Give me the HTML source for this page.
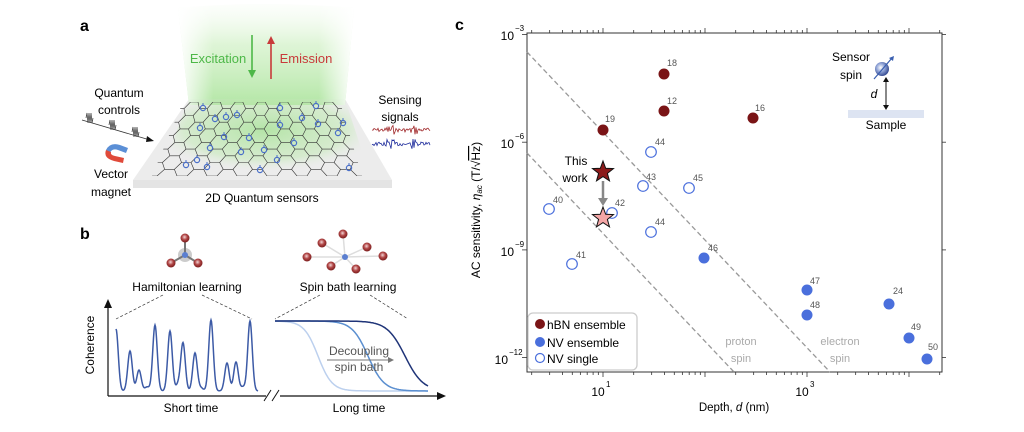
<!DOCTYPE html>
<html><head><meta charset="utf-8"><style>
html,body{margin:0;padding:0;background:#fff;width:1024px;height:432px;overflow:hidden}
svg{display:block;font-family:"Liberation Sans",sans-serif}
</style></head><body>
<svg id="s" width="1024" height="432" viewBox="0 0 1024 432" xmlns="http://www.w3.org/2000/svg">
<defs>
<linearGradient id="beam" x1="0" y1="0" x2="0" y2="1"><stop offset="0" stop-color="#e6f7df" stop-opacity="0.1"/><stop offset="0.4" stop-color="#c8eebb" stop-opacity="0.6"/><stop offset="1" stop-color="#a6e296" stop-opacity="0.85"/></linearGradient>
<linearGradient id="beamx" x1="0" y1="0" x2="1" y2="0"><stop offset="0" stop-color="#fff" stop-opacity="1"/><stop offset="0.2" stop-color="#fff" stop-opacity="0"/><stop offset="0.8" stop-color="#fff" stop-opacity="0"/><stop offset="1" stop-color="#fff" stop-opacity="1"/></linearGradient>
<radialGradient id="ball" cx="0.4" cy="0.4" r="0.6"><stop offset="0" stop-color="#fff"/><stop offset="0.5" stop-color="#8fa3d6"/><stop offset="1" stop-color="#3a4f95"/></radialGradient>
<radialGradient id="rball" cx="0.45" cy="0.4" r="0.6"><stop offset="0" stop-color="#f3d6d6"/><stop offset="0.5" stop-color="#b04545"/><stop offset="1" stop-color="#7a1d1d"/></radialGradient>
<radialGradient id="plateg" cx="0.5" cy="0.4" r="0.55"><stop offset="0" stop-color="#a6e296" stop-opacity="0.8"/><stop offset="0.7" stop-color="#bfeab0" stop-opacity="0.5"/><stop offset="1" stop-color="#ececec" stop-opacity="0"/></radialGradient>
<clipPath id="latclip"><polygon points="183,102 340,102 362,176 152,176"/></clipPath>
</defs>
<!-- Panel a -->
<text x="80" y="31" font-size="16" font-weight="bold">a</text>
<polygon points="133,180 392,180 392,188 133,188" fill="#e4e4e4"/>
<polygon points="189,99 345,99 392,180 133,180" fill="#ececec"/>
<path d="M178,8 Q265,0 354,8 L345,105 L189,105 Z" fill="url(#beam)"/>
<path d="M178,8 Q265,0 354,8 L345,105 L189,105 Z" fill="url(#beamx)"/>
<polygon points="189,99 345,99 370,176 160,176" fill="url(#plateg)"/>
<g id="lat" clip-path="url(#latclip)" fill="none" stroke="#333" stroke-width="0.6"></g>
<g id="spins"></g>
<text x="218" y="63" font-size="13" fill="#4db848" text-anchor="middle">Excitation</text>
<line x1="252" y1="35" x2="252" y2="72" stroke="#4db848" stroke-width="1.6"/><polygon points="248,70 256,70 252,78" fill="#4db848"/>
<text x="306" y="63" font-size="13" fill="#c83a3a" text-anchor="middle">Emission</text>
<line x1="271" y1="42" x2="271" y2="79" stroke="#c83a3a" stroke-width="1.6"/><polygon points="267,44 275,44 271,36" fill="#c83a3a"/>
<text x="119" y="97" font-size="12" text-anchor="middle">Quantum</text>
<text x="119" y="114" font-size="12" text-anchor="middle">controls</text>
<line x1="82" y1="120" x2="150" y2="140" stroke="#333" stroke-width="0.8"/><polygon points="147,136 154,141 146,142" fill="#111"/>
<path d="M86,118 l1,-5 l1,10 l1,-10 l1,10 l1,-10 l1,10 l1,-5 M109,125 l1,-5 l1,10 l1,-10 l1,10 l1,-10 l1,10 l1,-5 M132,132 l1,-5 l1,10 l1,-10 l1,10 l1,-10 l1,10 l1,-5" stroke="#444" fill="none" stroke-width="0.8"/>
<path d="M106,150 q4,-8 14,-5 l8,3 l-2,5 l-8,-3 q-6,-2 -8,3 Z" fill="#5b8fd6"/>
<path d="M106,150 q-3,8 8,11 l9,2 l1,-5 l-9,-2 q-5,-1 -4,-4 Z" fill="#e04a3a"/>
<text x="111" y="178" font-size="12" text-anchor="middle">Vector</text>
<text x="111" y="196" font-size="12" text-anchor="middle">magnet</text>
<text x="262" y="202" font-size="12" text-anchor="middle">2D Quantum sensors</text>
<text x="400" y="104" font-size="12" text-anchor="middle">Sensing</text>
<text x="400" y="121" font-size="12" text-anchor="middle">signals</text>
<polyline id="sig1" fill="none" stroke="#a0282a" stroke-width="0.8"/>
<polyline id="sig2" fill="none" stroke="#1f2d9c" stroke-width="0.8"/>
<!-- Panel b -->
<text x="80" y="239" font-size="16" font-weight="bold">b</text>
<circle cx="185" cy="255" r="7" fill="#aaa" opacity="0.6"/>
<g id="mols"></g>
<text x="187" y="291" font-size="12" text-anchor="middle">Hamiltonian learning</text>
<text x="348" y="291" font-size="12" text-anchor="middle">Spin bath learning</text>
<g stroke="#333" stroke-width="0.7" stroke-dasharray="3,2" fill="none">
<line x1="163" y1="295" x2="116" y2="319"/><line x1="202" y1="295" x2="252" y2="319"/>
<line x1="320" y1="295" x2="275" y2="319"/><line x1="370" y1="295" x2="408" y2="319"/></g>
<line x1="108" y1="396" x2="108" y2="306" stroke="#111" stroke-width="1.2"/><polygon points="104,308 112,308 108,299" fill="#111"/>
<line x1="108" y1="396" x2="438" y2="396" stroke="#111" stroke-width="1.2"/><polygon points="437,392 446,396 437,400" fill="#111"/>
<rect x="266" y="390" width="14" height="12" fill="#fff"/>
<line x1="264" y1="401" x2="271" y2="390" stroke="#111"/><line x1="272" y1="401" x2="279" y2="390" stroke="#111"/>
<text transform="translate(94,345) rotate(-90)" font-size="12" text-anchor="middle">Coherence</text>
<text x="191" y="412" font-size="12" text-anchor="middle">Short time</text>
<text x="359" y="412" font-size="12" text-anchor="middle">Long time</text>
<path id="osc" fill="none" stroke="#3c5aa6" stroke-width="1.5"/>
<path id="d1" fill="none" stroke="#bcd0ee" stroke-width="1.5"/>
<path id="d2" fill="none" stroke="#5b8fd0" stroke-width="1.5"/>
<path id="d3" fill="none" stroke="#1f3478" stroke-width="1.5"/>
<text x="359" y="355" font-size="12" fill="#555" text-anchor="middle">Decoupling</text>
<line x1="327" y1="360" x2="390" y2="360" stroke="#777"/><polygon points="388,357 394,360 388,363" fill="#777"/>
<text x="359" y="371" font-size="12" fill="#555" text-anchor="middle">spin bath</text>
<!-- Panel c -->
<text x="455" y="30" font-size="16" font-weight="bold">c</text>
<rect x="527" y="33" width="415" height="339" fill="none" stroke="#333" stroke-width="1"/>
<g id="ticks" stroke="#333" stroke-width="0.8"></g>
<g font-size="12" text-anchor="end">
<text x="514" y="40">10</text><text x="515" y="31" font-size="8" text-anchor="start">−3</text>
<text x="514" y="148">10</text><text x="515" y="139" font-size="8" text-anchor="start">−6</text>
<text x="514" y="256">10</text><text x="515" y="247" font-size="8" text-anchor="start">−9</text>
<text x="508" y="364">10</text><text x="509" y="355" font-size="8" text-anchor="start">−12</text>
</g>
<text x="598" y="396" font-size="12" text-anchor="middle">10</text><text x="606" y="387" font-size="8">1</text>
<text x="802" y="396" font-size="12" text-anchor="middle">10</text><text x="810" y="387" font-size="8">3</text>
<text x="734" y="411" font-size="11.5" text-anchor="middle">Depth, <tspan font-style="italic">d</tspan> (nm)</text>
<text transform="translate(480,210) rotate(-90)" font-size="12" text-anchor="middle">AC sensitivity, <tspan font-style="italic">η</tspan><tspan font-size="8" font-style="italic" dy="2">ac</tspan><tspan dy="-2"> (T/√</tspan><tspan text-decoration="overline">Hz</tspan>)</text>
<line x1="527" y1="52" x2="830" y2="372" stroke="#999" stroke-width="1.3" stroke-dasharray="5,3"/>
<line x1="527" y1="153" x2="734" y2="372" stroke="#999" stroke-width="1.3" stroke-dasharray="5,3"/>
<g font-size="11" fill="#aaa" text-anchor="middle"><text x="741" y="345">proton</text><text x="741" y="362">spin</text><text x="840" y="345">electron</text><text x="840" y="362">spin</text></g>
<g fill="#7a1416"><circle cx="664" cy="74" r="5.5"/><circle cx="664" cy="111" r="5.5"/><circle cx="603" cy="130" r="5.5"/><circle cx="753" cy="118" r="5.5"/></g>
<g fill="#4a6fdc"><circle cx="704" cy="258" r="5.5"/><circle cx="807" cy="290" r="5.5"/><circle cx="807" cy="315" r="5.5"/><circle cx="889" cy="304" r="5.5"/><circle cx="909" cy="338" r="5.5"/><circle cx="927" cy="359" r="5.5"/></g>
<g fill="#fff" stroke="#4a6fdc" stroke-width="1.2"><circle cx="549" cy="209" r="5.3"/><circle cx="572" cy="264" r="5.3"/><circle cx="612" cy="213" r="5.3"/><circle cx="651" cy="152" r="5.3"/><circle cx="643" cy="186" r="5.3"/><circle cx="689" cy="188" r="5.3"/><circle cx="651" cy="232" r="5.3"/></g>
<g font-size="9" fill="#555"><text x="667" y="66">18</text><text x="667" y="104">12</text><text x="605" y="122">19</text><text x="755" y="111">16</text>
<text x="708" y="251">46</text><text x="810" y="284">47</text><text x="810" y="308">48</text><text x="893" y="294">24</text><text x="911" y="330">49</text><text x="928" y="350">50</text>
<text x="553" y="203">40</text><text x="576" y="258">41</text><text x="615" y="206">42</text><text x="655" y="145">44</text><text x="646" y="180">43</text><text x="693" y="181">45</text><text x="655" y="225">44</text></g>
<g id="stars"></g>
<line x1="603" y1="181" x2="603" y2="200" stroke="#888" stroke-width="2.5"/><polygon points="598,198 608,198 603,206" fill="#888"/>
<text x="576" y="165" font-size="12" text-anchor="middle">This</text><text x="575" y="182" font-size="12" text-anchor="middle">work</text>
<text x="851" y="61" font-size="12" text-anchor="middle">Sensor</text><text x="851" y="79" font-size="12" text-anchor="middle">spin</text>
<circle cx="882" cy="69" r="7" fill="url(#ball)"/><line x1="874" y1="79" x2="892" y2="58" stroke="#3a5fb0" stroke-width="1.2"/><polygon points="889,58 894,56 893,61" fill="#3a5fb0"/>
<line x1="886" y1="80" x2="886" y2="107" stroke="#111"/><polygon points="883,82 889,82 886,77" fill="#111"/><polygon points="883,105 889,105 886,110" fill="#111"/>
<text x="874" y="98" font-size="12" font-style="italic" text-anchor="middle">d</text>
<rect x="848" y="110" width="76" height="8" fill="#dde4f2"/>
<text x="886" y="129" font-size="12" text-anchor="middle">Sample</text>
<rect x="528" y="313" width="109" height="57" rx="5" fill="#fff" stroke="#ccc" stroke-width="1.3"/>
<circle cx="540" cy="324" r="5" fill="#7a1416"/><text x="547" y="329" font-size="12">hBN ensemble</text>
<circle cx="540" cy="342" r="5" fill="#4a6fdc"/><text x="547" y="347" font-size="12">NV ensemble</text>
<circle cx="540" cy="358" r="4.5" fill="#fff" stroke="#4a6fdc" stroke-width="1.2"/><text x="547" y="363" font-size="12">NV single</text>
</svg>
<script>
var NS="http://www.w3.org/2000/svg",S=document.getElementById('s');
function el(t,a,p){var e=document.createElementNS(NS,t);for(var k in a)e.setAttribute(k,a[k]);(p||S).appendChild(e);return e;}
// lattice (flat-top honeycomb in unit square mapped to trapezoid)
var Q=[[183,102],[340,102],[362,176],[152,176]];
function map(u,v){var tx=Q[0][0]+(Q[1][0]-Q[0][0])*u, bx=Q[3][0]+(Q[2][0]-Q[3][0])*u;return [tx+(bx-tx)*v, Q[0][1]+(Q[3][1]-Q[0][1])*v];}
var lat=document.getElementById('lat'),d="";
var s=1/21, hh=1/11;
for(var c=-2;c<=16;c++)for(var r=-2;r<=7;r++){
 var cx=c*1.5*s, cy=(r*2+(c%2?1:0))*hh;
 var pts=[[-1,0],[-0.5,-1],[0.5,-1],[1,0],[0.5,1],[-0.5,1]].map(function(p){return map(cx+p[0]*s,cy+p[1]*hh);});
 d+="M"+pts.map(function(p){return p[0].toFixed(1)+","+p[1].toFixed(1)}).join("L")+"Z";}
el('path',{d:d},lat);
var sp=[[203,108],[215,119],[237,115],[200,128],[210,148],[197,160],[186,165],[226,117],[280,108],[316,106],[302,118],[318,124],[280,125],[249,138],[241,152],[264,150],[294,143],[277,160],[260,170],[224,137],[338,133],[343,123],[349,168],[207,167]];
var g=document.getElementById('spins');sp.forEach(function(p){el('circle',{cx:p[0],cy:p[1],r:2.6,fill:'none',stroke:'#4a6fc8','stroke-width':1.2},g);el('line',{x1:p[0],y1:p[1]-2,x2:p[0],y2:p[1]-5,stroke:'#4a6fc8','stroke-width':1},g);});
// signals
function sig(id,y,seed){var s="";var x=372,k=seed;for(;x<=430;x+=1){k=(k*9301+49297)%233280;var a=(k/233280-0.5)*((x>385&&x<395)||(x>410&&x<418)?10:4);s+=x+","+(y+a).toFixed(1)+" ";}document.getElementById(id).setAttribute('points',s);}
sig('sig1',130,7);sig('sig2',144,13);
// molecules
var m=document.getElementById('mols');
function ball(x,y,r,f){el('circle',{cx:x,cy:y,r:r,fill:f},m);}
[[185,238],[171,263],[198,263]].forEach(function(p){el('line',{x1:185,y1:255,x2:p[0],y2:p[1],stroke:'#777','stroke-width':2},m);ball(p[0],p[1],4.5,'url(#rball)');});
ball(185,255,3,'#5b7fd0');
var bp=[[343,234],[322,243],[307,257],[331,266],[356,269],[367,247],[383,256]];
bp.forEach(function(p){el('line',{x1:345,y1:257,x2:p[0],y2:p[1],stroke:'#ddd','stroke-width':1.5},m);});
bp.forEach(function(p){ball(p[0],p[1],4.5,'url(#rball)');});ball(345,257,3,'#5b7fd0');
// oscillation
var peaks=[[116,329],[130,351],[139,370],[155,325],[170,331],[183,343],[195,353],[211,320],[227,363],[236,362],[250,321],[147,387],[178,385],[201,388],[243,387]];
var o="";for(var x=116;x<=258;x+=0.5){var y=391;peaks.forEach(function(p){var dy=(391-p[1])*Math.exp(-Math.pow((x-p[0])/3.2,2));y-=dy;});y=Math.max(y,320);o+=(o?"L":"M")+x+","+y.toFixed(1);}
document.getElementById('osc').setAttribute('d',o);
function dec(id,mid,wd){var s="";for(var x=275;x<=428;x+=1){var y=321+70/(1+Math.exp(-(x-mid)/wd));s+=(s?"L":"M")+x+","+y.toFixed(1);}document.getElementById(id).setAttribute('d',s);}
dec('d1',318,7);dec('d2',368,8);dec('d3',405,9);
// ticks
var t=document.getElementById('ticks');
function X(v){return 501+102*Math.log10(v);}
for(var e=0;e<=4;e++)for(var k=1;k<10;k++){var v=k*Math.pow(10,e),x=X(v);if(x<528||x>941)continue;var L=k==1?5:3;el('line',{x1:x,y1:372,x2:x,y2:372+L},t);el('line',{x1:x,y1:33,x2:x,y2:33-L},t);}
for(var e=-12;e<=-3;e++){var y=34.5+107.7*(-3-e)/3;if(e%3==0){el('line',{x1:522,y1:y,x2:527,y2:y},t);el('line',{x1:942,y1:y,x2:946,y2:y},t);}}
// stars
function star(cx,cy,R,f){var s="";for(var i=0;i<10;i++){var r=i%2?R*0.42:R,a=-Math.PI/2+i*Math.PI/5;s+=(cx+r*Math.cos(a)).toFixed(1)+","+(cy+r*Math.sin(a)).toFixed(1)+" ";}el('polygon',{points:s,fill:f,stroke:'#111','stroke-width':1},document.getElementById('stars'));}
star(603,172,11,'#8b1a1a');star(603,218,11,'#f4a6a6');
</script>
</body></html>
